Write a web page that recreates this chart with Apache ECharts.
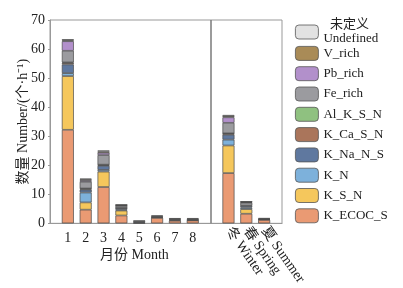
<!DOCTYPE html>
<html>
<head>
<meta charset="utf-8">
<script src="https://cdn.jsdelivr.net/npm/echarts@6/dist/echarts.min.js"></script>
<style>
  html, body { margin: 0; padding: 0; background: #fff; }
  #chart { width: 403px; height: 288px; }
</style>
</head>
<body>
<div id="chart"></div>
<script>
// 类别：月份 1-8，然后季节
const months = ["1", "2", "3", "4", "5", "6", "7", "8"];
const seasons = ["冬 Winter", "春 Spring", "夏 Summer"];
const yTicks = [0, 10, 20, 30, 40, 50, 60, 70];

// 各类颗粒数量 (months 1-8, Winter, Spring, Summer)
const K_ECOC_S = [32.2, 4.7, 12.5, 2.7, 0.1, 1.9, 0.9, 1.0, 17.3, 3.3, 1.2];
const K_S_N    = [18.5, 2.5, 5.3, 1.7, 0, 0.1, 0.2, 0.1, 9.5, 1.6, 0.1];
const K_N      = [1.0, 3.4, 0.6, 0.3, 0, 0, 0, 0, 2.0, 0.5, 0];
const K_Na_N_S = [3.0, 1.0, 1.4, 0.5, 0.3, 0.2, 0.2, 0.1, 1.7, 0.6, 0.1];
const K_Ca_S_N = [0.5, 0.3, 0.3, 0.1, 0, 0, 0, 0, 0.4, 0.1, 0];
const Al_K_S_N = [0.2, 0.1, 0.1, 0, 0, 0, 0, 0, 0.1, 0, 0];
const Fe_rich  = [4.0, 2.3, 3.3, 0.7, 0.4, 0.3, 0.2, 0.3, 3.6, 1.0, 0.2];
const Pb_rich  = [3.3, 0.5, 0.8, 0.2, 0, 0, 0, 0, 1.9, 0.2, 0];
const V_rich   = [0.3, 0.3, 0.4, 0.1, 0.1, 0.2, 0.3, 0.3, 0.4, 0.1, 0.2];
const Undefined = [0.4, 0.3, 0.4, 0.1, 0, 0, 0, 0, 0.4, 0.1, 0];

const FONT = "'Liberation Serif', 'Noto Sans CJK SC', serif";

// 轴上的位置：空位 + 月份 + 分隔空位 + 季节 + 空位
const categories = ["a"].concat(months, ["sep"], seasons, ["z"]);

const pad = (arr) => {
  const v = arr.map((x) => (x ? x : null));
  return [null].concat(v.slice(0, 8), [null], v.slice(8), [null]);
};

const seriesDefs = [
  { name: "K_ECOC_S", data: K_ECOC_S, color: "#EA9A73" },
  { name: "K_S_N", data: K_S_N, color: "#F5C75C" },
  { name: "K_N", data: K_N, color: "#7DB1DB" },
  { name: "K_Na_N_S", data: K_Na_N_S, color: "#5F789F" },
  { name: "K_Ca_S_N", data: K_Ca_S_N, color: "#AA755B" },
  { name: "Al_K_S_N", data: Al_K_S_N, color: "#8FC180" },
  { name: "Fe_rich", data: Fe_rich, color: "#9B9B9F" },
  { name: "Pb_rich", data: Pb_rich, color: "#B290CB" },
  { name: "V_rich", data: V_rich, color: "#A98B57" },
  { name: "Undefined", data: Undefined, color: "#E2E2E2" },
];

const myChart = echarts.init(document.getElementById("chart"));

const series = seriesDefs.map((s, i) => {
  const item = {
    name: s.name,
    type: "bar",
    stack: "total",
    barWidth: 12,
    data: pad(s.data),
    itemStyle: { color: s.color, borderColor: "#4a4a4a", borderWidth: 0.7 },
  };
  if (i === 0) {
    // 月份与季节之间的分隔线
    item.markLine = {
      silent: true,
      symbol: "none",
      label: { show: false },
      lineStyle: { color: "#7a7a7a", width: 1.5, type: "solid" },
      data: [{ xAxis: "sep" }],
    };
  }
  return item;
});

const legendText = { fontFamily: FONT, fontSize: 13, color: "#222" };

const options = {
  animation: false,
  grid: {
    left: 50,
    right: 121,
    top: 20,
    bottom: 60,
    show: true,
    borderColor: "#999",
    borderWidth: 1,
  },
  legend: [
    {
      data: ["Undefined"],
      orient: "vertical",
      left: 295,
      top: 18,
      padding: 0,
      itemWidth: 23,
      itemHeight: 14,
      itemStyle: { borderColor: "#555", borderWidth: 0.8 },
      formatter: () => "  未定义\nUndefined",
      textStyle: Object.assign({ lineHeight: 14 }, legendText),
    },
    {
      data: seriesDefs.slice(0, 9).map((s) => s.name).reverse(),
      orient: "vertical",
      left: 295,
      top: 46,
      padding: 0,
      itemWidth: 23,
      itemHeight: 14,
      itemGap: 5.5,
      itemStyle: { borderColor: "#555", borderWidth: 0.8 },
      textStyle: legendText,
    },
  ],
  xAxis: [
    {
      type: "category",
      data: categories,
      boundaryGap: false,
      axisLine: { lineStyle: { color: "#999" } },
      axisTick: { show: false },
      axisLabel: {
        interval: 0,
        margin: 8,
        fontFamily: FONT,
        fontSize: 14,
        color: "#222",
        formatter: (v) => (months.includes(v) ? v : ""),
      },
    },
    {
      type: "category",
      data: categories,
      boundaryGap: false,
      position: "bottom",
      axisLine: { show: false },
      axisTick: { show: false },
      axisLabel: {
        interval: 0,
        margin: 5,
        rotate: -55,
        fontFamily: FONT,
        fontSize: 14,
        color: "#222",
        formatter: (v) => (seasons.includes(v) ? v : ""),
      },
    },
  ],
  yAxis: {
    type: "value",
    min: yTicks[0],
    max: yTicks[yTicks.length - 1],
    interval: 10,
    name: "数量 Number/(个·h⁻¹)",
    nameLocation: "middle",
    nameGap: 20,
    nameMoveOverlap: false,
    nameTextStyle: { fontFamily: FONT, fontSize: 14, color: "#222" },
    axisLine: { show: true, lineStyle: { color: "#999" } },
    axisTick: { show: true, length: 2, lineStyle: { color: "#999" } },
    splitLine: { show: false },
    axisLabel: { fontFamily: FONT, fontSize: 14, color: "#222", margin: 5 },
  },
  graphic: [
    {
      type: "text",
      left: 100,
      top: 248,
      style: { text: "月份 Month", font: "14px " + FONT, fill: "#222" },
    },
  ],
  series: series,
};

myChart.setOption(options);
</script>
</body>
</html>
